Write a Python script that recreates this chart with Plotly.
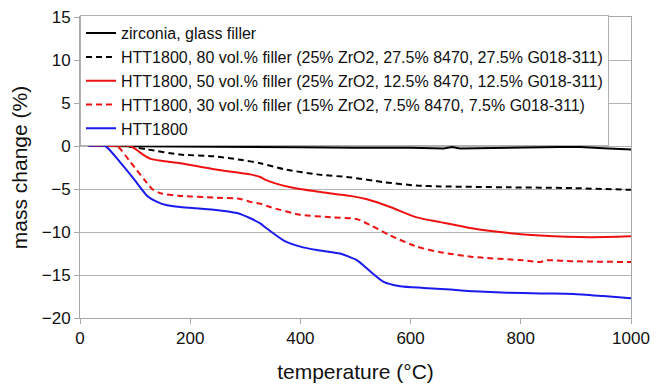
import plotly.graph_objects as go

# --- data ---
t_zirc = [16, 100, 200, 300, 400, 500, 600, 660, 675, 690, 750, 800, 900, 950, 1000]
v_zirc = [0, -0.05, -0.1, -0.1, -0.15, -0.2, -0.2, -0.3, -0.12, -0.3, -0.25, -0.2, -0.1, -0.25, -0.4]

t_80 = [16, 60, 80, 122, 182, 243, 291, 327, 370, 430, 491, 551, 611, 654, 775, 895, 1000]
v_80 = [0, 0, 0, -0.4, -1.0, -1.2, -1.6, -2.0, -2.7, -3.3, -3.65, -4.2, -4.6, -4.7, -4.8, -4.9, -5.1]

t_50 = [16, 60, 92, 110, 128, 182, 243, 309, 327, 339, 382, 430, 491, 521, 563, 611, 654, 714, 775, 835, 926, 1000]
v_50 = [0, 0, 0, -0.8, -1.5, -2.0, -2.7, -3.3, -3.6, -4.0, -4.8, -5.3, -5.8, -6.2, -7.1, -8.3, -8.85, -9.6, -10.1, -10.4, -10.6, -10.5]

t_30 = [16, 45, 67, 92, 116, 131, 146, 182, 243, 291, 309, 327, 345, 400, 460, 503, 527, 563, 611, 654, 714, 805, 835, 847, 895, 1000]
v_30 = [0, 0, 0, -1.9, -3.85, -5.0, -5.5, -5.8, -6.0, -6.15, -6.5, -6.7, -7.1, -8.0, -8.3, -8.5, -9.2, -10.4, -11.7, -12.35, -12.9, -13.3, -13.5, -13.3, -13.4, -13.5]

t_htt = [16, 30, 46, 73, 98, 122, 140, 158, 182, 243, 285, 309, 327, 339, 370, 400, 430, 472, 503, 527, 551, 581, 623, 672, 714, 775, 835, 895, 950, 1000]
v_htt = [0, 0.05, 0, -1.9, -3.85, -5.8, -6.5, -6.9, -7.1, -7.4, -7.8, -8.4, -9.0, -9.6, -11.0, -11.7, -12.1, -12.5, -13.3, -14.6, -15.8, -16.3, -16.5, -16.7, -16.9, -17.05, -17.15, -17.2, -17.45, -17.7]

names = [
    "zirconia, glass filler",
    "HTT1800, 80 vol.% filler (25% ZrO2, 27.5% 8470, 27.5% G018-311)",
    "HTT1800, 50 vol.% filler (25% ZrO2, 12.5% 8470, 12.5% G018-311)",
    "HTT1800, 30 vol.% filler (15% ZrO2, 7.5% 8470, 7.5% G018-311)",
    "HTT1800",
]
x_ticks = [0, 200, 400, 600, 800, 1000]
y_ticks = [-20, -15, -10, -5, 0, 5, 10, 15]

series = [
    (t_zirc, v_zirc, "#000000", "solid", "linear"),
    (t_80, v_80, "#000000", "6px,4px", "spline"),
    (t_50, v_50, "#ee1111", "solid", "spline"),
    (t_30, v_30, "#ee1111", "6px,4px", "spline"),
    (t_htt, v_htt, "#1a1aee", "solid", "spline"),
]

fig = go.Figure()
for (t, v, c, d, s), n in zip(series, names):
    fig.add_trace(go.Scatter(x=t, y=v, name=n, mode="lines",
                             line=dict(color=c, width=2, dash=d, shape=s, smoothing=0.6)))

font = "Liberation Sans, Arial, sans-serif"
# page body has an 8px default margin, so the figure is sized 8px smaller
fig.update_layout(
    width=654, height=380,
    margin=dict(l=72, r=31, t=7, b=70),
    paper_bgcolor="white", plot_bgcolor="white",
    font=dict(family=font, color="#111111"),
    showlegend=True,
    legend=dict(x=0, y=1.006, xanchor="left", yanchor="top", bgcolor="white",
                bordercolor="#b0b0b0", borderwidth=1, font=dict(size=16, family=font),
                itemwidth=30, tracegroupgap=0),
    xaxis=dict(range=[0, 1000], tickvals=x_ticks, showgrid=False, showline=True,
               linecolor="#a8a8a8", linewidth=1, mirror=True, ticks="outside",
               ticklen=5, tickcolor="#a8a8a8", tickfont=dict(size=17), automargin=False,
               ticklabeloverflow="allow",
               title=dict(text="temperature (°C)", font=dict(size=21), standoff=16),
               zeroline=False),
    yaxis=dict(range=[-20, 15], tickvals=y_ticks, showgrid=True, gridcolor="#b4b4b4",
               showline=True, linecolor="#a8a8a8", linewidth=1, mirror=True,
               ticks="outside", ticklen=5, tickcolor="#a8a8a8", tickfont=dict(size=17),
               automargin=False, ticklabeloverflow="allow",
               title=dict(text="mass change (%)", font=dict(size=21), standoff=12),
               zeroline=False),
)
fig.write_html("out.html")
